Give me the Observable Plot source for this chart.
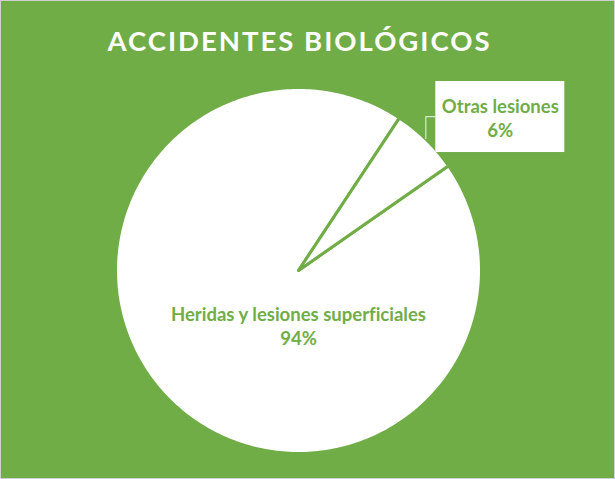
<!DOCTYPE html>
<html><head><meta charset="utf-8">
<script src="https://cdn.jsdelivr.net/npm/d3@7"></script>
<script src="https://cdn.jsdelivr.net/npm/@observablehq/plot@0.6"></script>
<style>
html,body{margin:0;padding:0;background:#fff;}
#chart{width:615px;height:479px;box-sizing:border-box;background:#70AD47;border:1px solid #d0d0d0;position:relative;overflow:hidden;font-family:Lato, "Open Sans", sans-serif;}
#title{height:69px;box-sizing:border-box;padding-top:26px;width:597px;text-align:center;color:#fff;font-weight:700;font-size:27.5px;line-height:28px;letter-spacing:2px;}
#plot svg{display:block;font-variant-ligatures:none;}
#plot text{font-variant-ligatures:none;}
</style></head>
<body><div id="chart"><div id="title">ACCIDENTES BIOLÓGICOS</div><div id="plot"></div></div>
<script>
const title = "ACCIDENTES BIOLÓGICOS";
const categories = ["Heridas y lesiones superficiales", "Otras lesiones"];
const values = [94, 6];
const percentLabels = ["94%", "6%"];

const GREEN = "#70AD47";
const startDeg = 55.1;
const pie = d3.pie().sort(null).startAngle(startDeg * Math.PI / 180).endAngle(startDeg * Math.PI / 180 + 2 * Math.PI);
const arcs = pie(values);

// polygon points for each slice (angles measured clockwise from 12 o'clock)
const points = [];
arcs.forEach((a, i) => {
  points.push({slice: i, x: 0, y: 0});
  const n = Math.max(8, Math.ceil((a.endAngle - a.startAngle) / (Math.PI / 180)));
  for (let k = 0; k <= n; k++) {
    const t = a.startAngle + (a.endAngle - a.startAngle) * k / n;
    points.push({slice: i, x: Math.sin(t), y: Math.cos(t)});
  }
});

const labelData = arcs.map((a, i) => {
  const mid = (a.startAngle + a.endAngle) / 2;
  return {name: categories[i], pct: percentLabels[i], mx: Math.sin(mid), my: Math.cos(mid)};
});

const mainLabel = [labelData[0]];
const sideLabel = [labelData[1]];

const plot = Plot.plot({
  width: 613,
  height: 408,
  marginLeft: 114,
  marginRight: 133,
  marginTop: 17,
  marginBottom: 25,
  x: {domain: [-1, 1], axis: null},
  y: {domain: [-1, 1], axis: null},
  style: {background: "transparent", overflow: "visible"},
  marks: [
    Plot.line(points, {x: "x", y: "y", z: "slice", fill: "white", stroke: GREEN, strokeWidth: 3, strokeLinejoin: "round", curve: "linear-closed"}),
    Plot.text(mainLabel, {x: () => 0, y: () => 0, dy: 55, text: d => d.name + "\n" + d.pct, fill: GREEN, fontWeight: 700, fontSize: 18.5, lineHeight: 1.27, fontFamily: "Lato, sans-serif"}),
    Plot.text(sideLabel, {
      x: "mx", y: "my", dx: 74, dy: -22.5,
      text: d => d.name + "\n" + d.pct, fill: GREEN, fontWeight: 700, fontSize: 18.5, lineHeight: 1.3, fontFamily: "Lato, sans-serif",
      render(index, scales, values, dims, ctx, next) {
        const g = next(index, scales, values, dims, ctx);
        const wrap = d3.create("svg:g");
        for (const i of index) {
          const ax = values.x[i], ay = values.y[i];
          const cx = ax + 74, cy = ay - 22.5;
          wrap.append("path")
            .attr("d", `M${ax},${ay}V${cy}H${cx - 64.5}`)
            .attr("fill", "none").attr("stroke", "#d6e9c8").attr("stroke-width", 1.2);
          wrap.append("rect")
            .attr("x", cx - 64.5).attr("y", cy - 35.5)
            .attr("width", 129).attr("height", 71).attr("fill", "white");
        }
        wrap.node().appendChild(g);
        return wrap.node();
      }
    })
  ]
});
document.getElementById("plot").appendChild(plot);
</script>
</body></html>
